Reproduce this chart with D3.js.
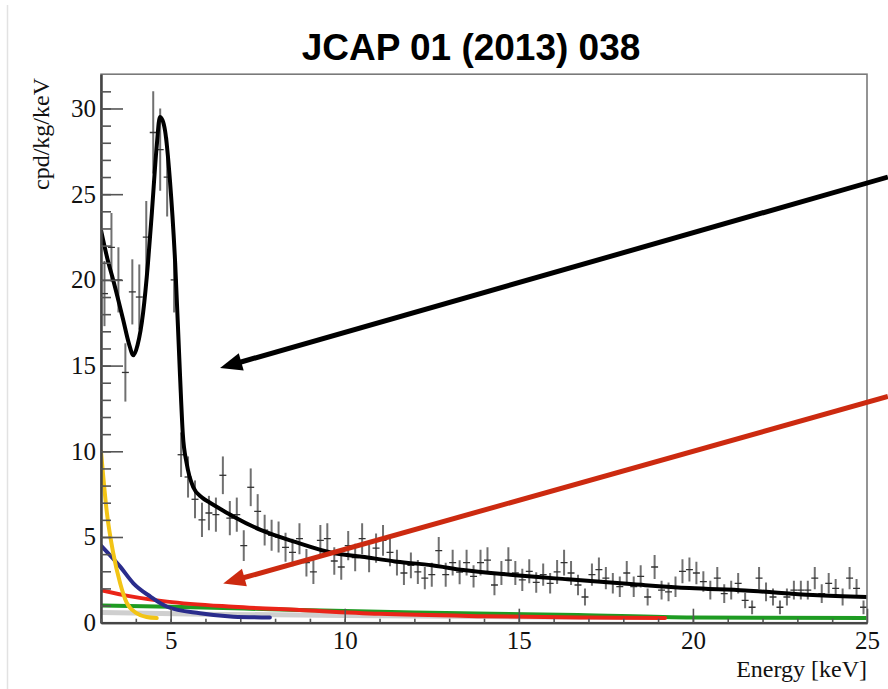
<!DOCTYPE html>
<html>
<head>
<meta charset="utf-8">
<script src="https://cdn.jsdelivr.net/npm/d3@7"></script>
<style>
  body { margin: 0; background: white; }
</style>
</head>
<body>
<svg id="chart"></svg>
<script>
//===================== Data ====================
var binStart = 3.0
var binWidth = 0.2

// counts per bin (cpd/kg/keV)
var counts = [19.2, 21.9, 20.0, 14.6, 19.3, 19.0, 22.5, 28.6, 27.6, 26.0,
              20.0, 9.8, 8.5, 7.2, 6.0, 6.4, 6.3, 8.6, 6.1, 6.3,
              4.5, 7.9, 6.5, 5.4, 5.1, 5.0, 4.4, 4.1, 4.9, 3.5,
              2.96, 4.8, 4.9, 3.6, 3.25, 4.5, 3.8, 4.9, 3.75, 4.35,
              4.8, 4.1, 3.5, 2.9, 3.35, 2.96, 2.6, 2.8, 4.2, 2.8,
              3.5, 2.95, 3.5, 2.7, 3.5, 3.65, 2.2, 2.9, 3.65, 2.9,
              2.5, 3.0, 2.35, 2.8, 2.3, 2.96, 3.5, 2.9, 2.2, 1.5,
              2.8, 3.1, 2.6, 2.3, 2.1, 2.9, 2.1, 2.7, 1.5, 3.25,
              1.9, 1.8, 2.1, 3.0, 3.1, 2.9, 2.4, 1.9, 2.6, 1.7,
              1.9, 2.3, 1.3, 0.9, 2.6, 1.8, 1.5, 0.9, 1.5, 1.9,
              1.9, 1.9, 2.6, 1.7, 2.3, 2.0, 1.5, 2.6, 2.0, 0.9]

var errors = [1.9, 2.0, 1.9, 1.7, 1.9, 1.9, 2.1, 2.4, 2.4, 2.3,
              1.9, 1.3, 1.2, 1.1, 1.0, 1.0, 1.0, 1.1, 1.0, 1.0,
              0.9, 1.1, 1.0, 0.9, 0.9, 0.9, 0.85, 0.8, 0.9, 0.8,
              0.7, 0.9, 0.9, 0.8, 0.75, 0.85, 0.8, 0.9, 0.8, 0.85,
              0.9, 0.8, 0.75, 0.7, 0.75, 0.7, 0.65, 0.7, 0.8, 0.7,
              0.75, 0.7, 0.75, 0.65, 0.75, 0.75, 0.6, 0.7, 0.75, 0.7,
              0.65, 0.7, 0.6, 0.65, 0.6, 0.7, 0.75, 0.7, 0.6, 0.5,
              0.65, 0.7, 0.65, 0.6, 0.6, 0.7, 0.6, 0.65, 0.5, 0.7,
              0.55, 0.55, 0.6, 0.7, 0.7, 0.65, 0.6, 0.55, 0.65, 0.55,
              0.55, 0.6, 0.45, 0.4, 0.65, 0.55, 0.5, 0.4, 0.5, 0.55,
              0.55, 0.55, 0.65, 0.55, 0.6, 0.55, 0.5, 0.65, 0.55, 0.4]

// total fit (black)
var fitE = [3.0, 3.2, 3.35, 3.5, 3.64, 3.8, 3.93, 4.05, 4.21, 4.35, 4.46, 4.6, 4.69, 4.77, 4.84, 4.98,
            5.13, 5.27, 5.35, 5.46, 5.65, 5.9, 6.13, 6.5, 6.8, 7.6, 8.6, 9.6, 10.5, 11.5, 12.5, 13.4,
            14.75, 16.4, 18.3, 19.9, 21.5, 23.45, 25.0]
var fitV = [22.9, 21.1, 20.0, 18.8, 17.65, 16.3, 15.6, 16.2, 18.1, 21.0, 23.9, 27.8, 29.5, 29.3, 28.7, 25.8,
            21.0, 14.4, 11.0, 9.3, 7.9, 7.3, 7.0, 6.55, 6.2, 5.4, 4.7, 4.1, 3.85, 3.56, 3.35, 3.07,
            2.8, 2.53, 2.24, 2.02, 1.88, 1.62, 1.5]

// fit components
var yellowE = [3.0, 3.17, 3.35, 3.55, 3.74, 4.02, 4.31, 4.6]
var yellowV = [10.0, 6.4, 4.07, 2.3, 1.15, 0.56, 0.33, 0.27]
var blueE = [3.0, 3.55, 3.93, 4.42, 4.9, 5.84, 6.8, 7.85]
var blueV = [4.5, 3.27, 2.3, 1.52, 0.93, 0.55, 0.35, 0.3]
var redE = [3.0, 3.9, 4.9, 6.8, 8.7, 11.0, 14.0, 17.0, 19.2]
var redV = [1.9, 1.52, 1.23, 0.93, 0.74, 0.52, 0.38, 0.3, 0.27]
var greenE = [3.0, 5.0, 8.7, 12.0, 16.7, 20.0, 25.0]
var greenV = [1.0, 0.93, 0.74, 0.6, 0.45, 0.3, 0.28]
var grayE = [3.0, 6.0, 10.0, 14.0, 19.0]
var grayV = [0.6, 0.5, 0.42, 0.36, 0.3]

var xTicks = [5, 10, 15, 20, 25]
var yTicks = [0, 5, 10, 15, 20, 25, 30]

// annotation arrows [tailE, tailV, tipE, tipV]
var blackArrow = [25.6, 26.0, 6.42, 14.86]
var redArrow = [25.6, 13.2, 6.51, 2.29]

//===================== Visualization ====================
var width = 888
var height = 689

var svg = d3.select("#chart").attr("width", width).attr("height", height)

svg.append("rect").attr("width", width).attr("height", height).attr("fill", "white")

// faint page edge on the left
svg.append("line")
    .attr("x1", 7.5).attr("x2", 7.5).attr("y1", 5).attr("y2", height)
    .attr("stroke", "#e2e2e2").attr("stroke-width", 1.5)

var x = d3.scaleLinear().domain([3, 25]).range([101, 867])
var y = d3.scaleLinear().domain([0, 32]).range([622.7, 74.2])

svg.append("clipPath").attr("id", "clip")
    .append("rect")
    .attr("x", x(3)).attr("y", y(32))
    .attr("width", x(25) - x(3)).attr("height", y(0) - y(32))

var plot = svg.append("g").attr("clip-path", "url(#clip)")

function pairs(es, vs) {
    return es.map(function(e, i) { return [e, vs[i]] })
}

var line = d3.line()
    .x(function(d) { return x(d[0]) })
    .y(function(d) { return y(d[1]) })
    .curve(d3.curveMonotoneX)

// components
var comps = [
    {e: grayE, v: grayV, color: "#cfcfcf", w: 5},
    {e: greenE, v: greenV, color: "#1e9b22", w: 4},
    {e: redE, v: redV, color: "#ea2418", w: 4},
    {e: blueE, v: blueV, color: "#2a2c8c", w: 4},
    {e: yellowE, v: yellowV, color: "#f2c416", w: 4}
]
comps.forEach(function(c) {
    plot.append("path")
        .attr("d", line(pairs(c.e, c.v)))
        .attr("fill", "none")
        .attr("stroke", c.color)
        .attr("stroke-width", c.w)
        .attr("stroke-linecap", "round")
})

// data points with error bars
var points = counts.map(function(c, i) {
    return {e: binStart + binWidth * (i + 0.5), v: c, err: errors[i]}
})

var pts = plot.append("g").selectAll("g")
    .data(points)
    .enter()
    .append("g")

pts.append("line")
    .attr("x1", function(d) { return x(d.e) })
    .attr("x2", function(d) { return x(d.e) })
    .attr("y1", function(d) { return y(d.v - d.err) })
    .attr("y2", function(d) { return y(d.v + d.err) })
    .attr("stroke", "#707070")
    .attr("stroke-width", 2)

pts.append("line")
    .attr("x1", function(d) { return x(d.e - binWidth / 2) })
    .attr("x2", function(d) { return x(d.e + binWidth / 2) })
    .attr("y1", function(d) { return y(d.v) })
    .attr("y2", function(d) { return y(d.v) })
    .attr("stroke", "#333")
    .attr("stroke-width", 1.3)

// total fit
plot.append("path")
    .attr("d", line(pairs(fitE, fitV)))
    .attr("fill", "none")
    .attr("stroke", "black")
    .attr("stroke-width", 4)
    .attr("stroke-linejoin", "round")

// frame
svg.append("rect")
    .attr("x", x(3)).attr("y", y(32))
    .attr("width", x(25) - x(3)).attr("height", y(0) - y(32))
    .attr("fill", "none")
    .attr("stroke", "#7a7a7a")
    .attr("stroke-width", 1.6)

//===================== Axes ====================
var tickFont = "'Liberation Serif', 'Times New Roman', serif"

var yAxis = svg.append("g")
    .attr("transform", "translate(" + x(3) + ",0)")
    .call(d3.axisLeft(y).tickValues(yTicks).tickSizeInner(-22).tickSizeOuter(0).tickPadding(5))
var yMinor = svg.append("g")
    .attr("transform", "translate(" + x(3) + ",0)")
    .call(d3.axisLeft(y).tickValues(d3.range(0, 32, 1)).tickSizeInner(-10).tickSizeOuter(0).tickFormat(""))

var xAxis = svg.append("g")
    .attr("transform", "translate(0," + y(0) + ")")
    .call(d3.axisBottom(x).tickValues(xTicks).tickSizeInner(-14).tickSizeOuter(0).tickPadding(9))
var xMinor = svg.append("g")
    .attr("transform", "translate(0," + y(0) + ")")
    .call(d3.axisBottom(x).tickValues(d3.range(3, 25, 1)).tickSizeInner(-4).tickSizeOuter(0).tickFormat(""))

;[yAxis, yMinor, xAxis, xMinor].forEach(function(a) {
    a.select(".domain").attr("stroke", "#444").attr("stroke-width", 2)
    a.selectAll(".tick line").attr("stroke", "#555").attr("stroke-width", 1.6)
    a.selectAll("text")
        .attr("font-family", tickFont)
        .attr("font-size", 25)
        .attr("fill", "#111")
})

// axis titles
svg.append("text")
    .attr("transform", "translate(49,134) rotate(-90)")
    .attr("text-anchor", "middle")
    .attr("font-family", tickFont)
    .attr("font-size", 24)
    .attr("fill", "#111")
    .text("cpd/kg/keV")

svg.append("text")
    .attr("x", 867).attr("y", 677)
    .attr("text-anchor", "end")
    .attr("font-family", tickFont)
    .attr("font-size", 24)
    .attr("fill", "#111")
    .text("Energy [keV]")

// title
svg.append("text")
    .attr("x", 471).attr("y", 60)
    .attr("text-anchor", "middle")
    .attr("font-family", "'Liberation Sans', Arial, Helvetica, sans-serif")
    .attr("font-weight", "bold")
    .attr("font-size", 37)
    .attr("fill", "black")
    .text("JCAP 01 (2013) 038")

//===================== Arrows ====================
function arrow(a, color) {
    var x1 = x(a[0]), y1 = y(a[1]), x2 = x(a[2]), y2 = y(a[3])
    var ang = Math.atan2(y2 - y1, x2 - x1)
    var headLen = 22, headW = 9
    var bx = x2 - headLen * Math.cos(ang), by = y2 - headLen * Math.sin(ang)
    svg.append("line")
        .attr("x1", x1).attr("y1", y1).attr("x2", bx + 2 * Math.cos(ang)).attr("y2", by + 2 * Math.sin(ang))
        .attr("stroke", color).attr("stroke-width", 5)
    var px = -Math.sin(ang) * headW, py = Math.cos(ang) * headW
    svg.append("path")
        .attr("d", "M" + x2 + "," + y2 + "L" + (bx + px) + "," + (by + py) + "L" + (bx - px) + "," + (by - py) + "Z")
        .attr("fill", color)
}
arrow(blackArrow, "black")
arrow(redArrow, "#cc2a10")
</script>
</body>
</html>
